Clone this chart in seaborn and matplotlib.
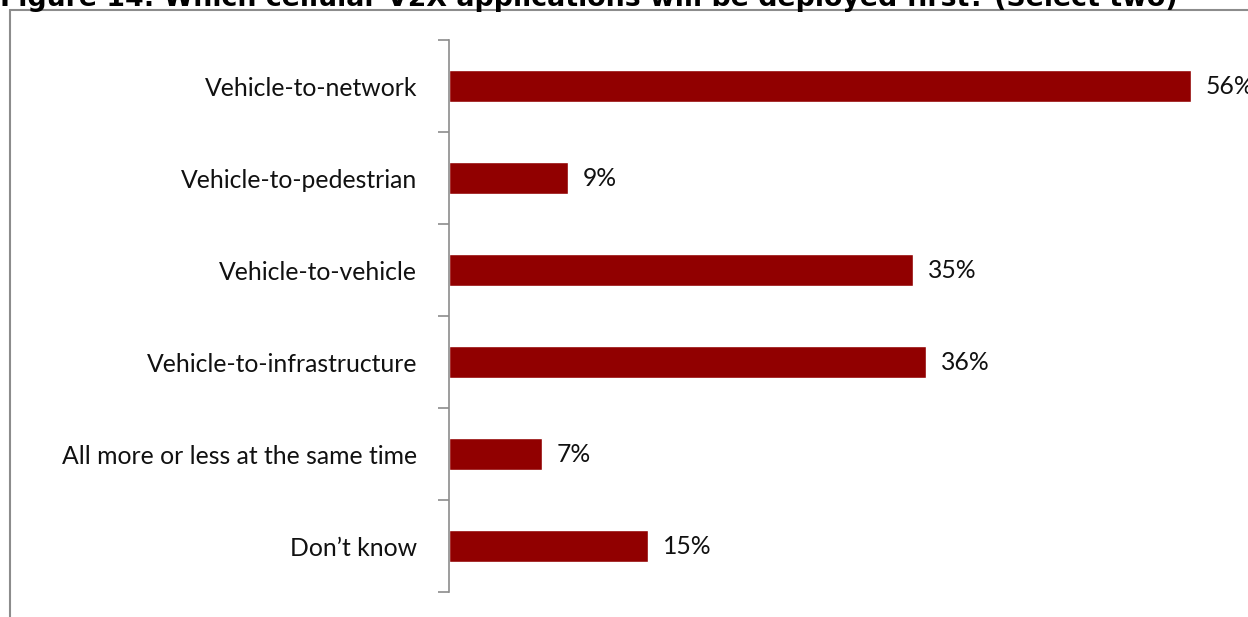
import matplotlib
matplotlib.use("Agg")
import matplotlib.pyplot as plt
from matplotlib.lines import Line2D
import seaborn as sns
import pandas as pd

categories = [
    "Vehicle-to-network",
    "Vehicle-to-pedestrian",
    "Vehicle-to-vehicle",
    "Vehicle-to-infrastructure",
    "All more or less at the same time",
    "Don\u2019t know",
]
shares = [56, 9, 35, 36, 7, 15]
title = "Figure 14: Which cellular V2X applications will be deployed first? (Select two)"

sns.set_theme(style="white")
plt.rcParams["font.family"] = ["Lato", "DejaVu Sans"]

W, H = 1248, 617
fig = plt.figure(figsize=(W / 100, H / 100), dpi=100)
fig.patch.set_facecolor("white")

left, bottom, top = 449, 592, 40
ax = fig.add_axes([left / W, (H - bottom) / H, (W - left) / W, (bottom - top) / H])

df = pd.DataFrame({"category": categories, "share": shares})
sns.barplot(data=df, x="share", y="category", orient="h", color="#910000",
            width=0.35, saturation=1, ax=ax)

px_per_unit = (1191 - left) / 56
ax.set_xlim(0, (W - left) / px_per_unit)
ax.set_ylim(len(categories) - 0.5, -0.5)
ax.set_xlabel("")
ax.set_ylabel("")
ax.set_xticks([])

for s in ["top", "right", "bottom"]:
    ax.spines[s].set_visible(False)
ax.spines["left"].set_color("#8c8c8c")
ax.spines["left"].set_linewidth(1.2)

ax.tick_params(axis="y", which="major", left=False, length=0, pad=23,
               labelsize=17.8, labelcolor="#111111")
ax.set_yticks([i - 0.5 for i in range(len(categories) + 1)], minor=True)
ax.tick_params(axis="y", which="minor", left=True, length=8, width=1.2,
               color="#8c8c8c", direction="out")

for i, v in enumerate(shares):
    ax.text(v + 15 / px_per_unit, i, f"{v}%", va="center", ha="left",
            fontsize=17.8, color="#111111", clip_on=False)

# outer frame lines
fig.add_artist(Line2D([10 / W, 10 / W], [0, 1 - 10 / H], color="#8c8c8c", lw=1.5))
fig.add_artist(Line2D([10 / W, 1], [1 - 10 / H, 1 - 10 / H], color="#8c8c8c", lw=1.5))

fig.text(0, 1 - 6 / H, title, ha="left", va="baseline", fontsize=19.3,
         fontweight="bold", family="DejaVu Sans", color="black")

fig.savefig("out.png", dpi=100)
